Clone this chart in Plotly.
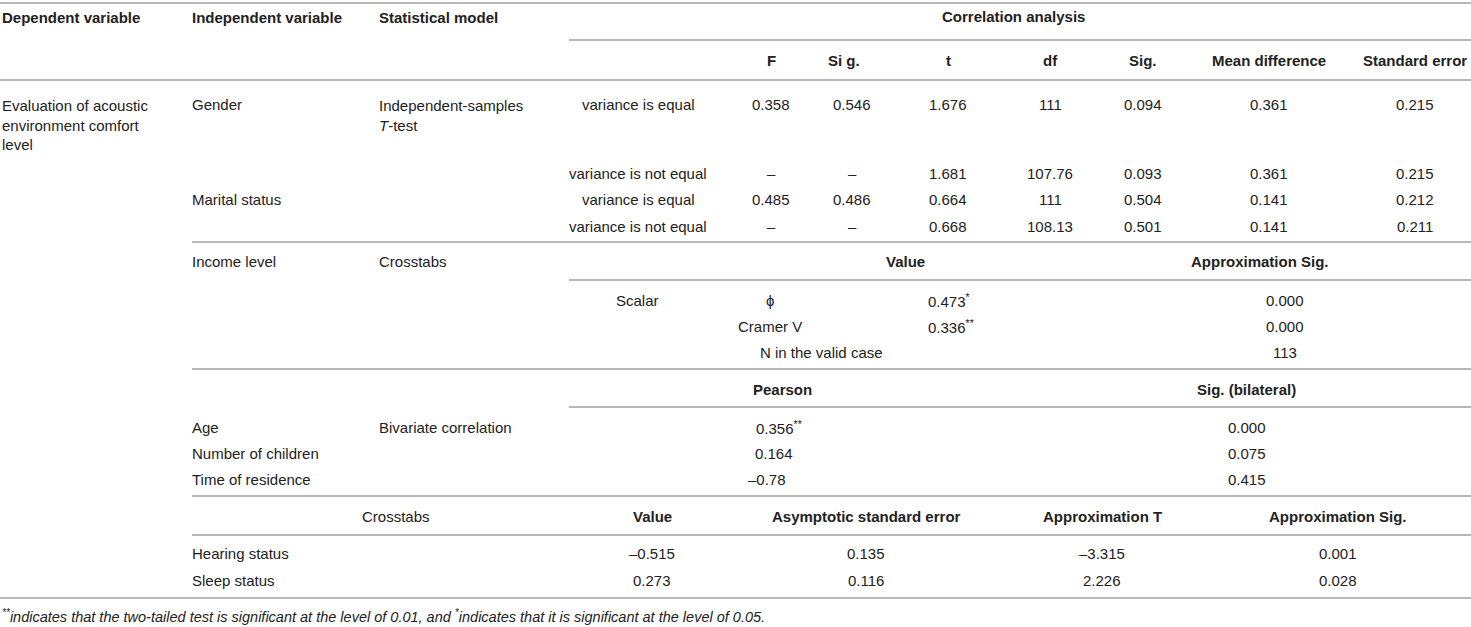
import plotly.graph_objects as go

# ---------------- data ----------------
col_headers = ["Dependent variable", "Independent variable", "Statistical model"]
group_header = "Correlation analysis"
dep_var = "Evaluation of acoustic<br>environment comfort<br>level"

ttest_vars = ["Gender", "Marital status"]
ttest_model = "Independent-samples<br><i>T</i>-test"
ttest_headers = ["F", "Si g.", "t", "df", "Sig.", "Mean difference", "Standard error"]
ttest_labels = ["variance is equal", "variance is not equal", "variance is equal", "variance is not equal"]
ttest_F = ["0.358", "–", "0.485", "–"]
ttest_sig1 = ["0.546", "–", "0.486", "–"]
ttest_t = ["1.676", "1.681", "0.664", "0.668"]
ttest_df = ["111", "107.76", "111", "108.13"]
ttest_sig2 = ["0.094", "0.093", "0.504", "0.501"]
ttest_md = ["0.361", "0.361", "0.141", "0.141"]
ttest_se = ["0.215", "0.215", "0.212", "0.211"]

income_var = "Income level"
income_model = "Crosstabs"
income_headers = ["Value", "Approximation Sig."]
income_group = "Scalar"
income_stats = ["ϕ", "Cramer V", "N in the valid case"]
income_values = ["0.473<sup>*</sup>", "0.336<sup>**</sup>", None]
income_sig = ["0.000", "0.000", "113"]

biv_headers = ["Pearson", "Sig. (bilateral)"]
biv_vars = ["Age", "Number of children", "Time of residence"]
biv_model = "Bivariate correlation"
biv_pearson = ["0.356<sup>**</sup>", "0.164", "–0.78"]
biv_sig = ["0.000", "0.075", "0.415"]

ct_model = "Crosstabs"
ct_headers = ["Value", "Asymptotic standard error", "Approximation T", "Approximation Sig."]
ct_vars = ["Hearing status", "Sleep status"]
ct_value = ["–0.515", "0.273"]
ct_se = ["0.135", "0.116"]
ct_T = ["–3.315", "2.226"]
ct_sig = ["0.001", "0.028"]

footnote = ("<sup>**</sup>indicates that the two-tailed test is significant at the level of 0.01, "
            "and <sup>*</sup>indicates that it is significant at the level of 0.05.")

# ---------------- layout (pixel positions) ----------------
W, H = 1471, 627
FONT = "Liberation Sans, Arial, sans-serif"
FS = 15
TXT = "#222222"
LINE = "#b8b8b8"

col_x = [0, 190, 377]
ttest_x = [638, 771, 852, 948, 1050, 1143, 1269, 1415]
ttest_hdr_x = [771, 844, 948, 1050, 1143, 1269, 1415]
ttest_row_y = [104, 173, 199, 226]

annotations = []


def txt(x, y, s, anchor="center", bold=False, size=FS, italic=False):
    if bold:
        s = "<b>" + s + "</b>"
    if italic:
        s = "<i>" + s + "</i>"
    annotations.append(dict(x=x, y=y, xref="x", yref="y", text=s, showarrow=False,
                            xanchor=anchor, yanchor="middle", align="left",
                            font=dict(family=FONT, size=size, color=TXT)))


# header
for i, h in enumerate(col_headers):
    txt(col_x[i], 17, h, anchor="left", bold=True)
txt(1013, 16, group_header, bold=True)
for i, h in enumerate(ttest_headers):
    txt(ttest_hdr_x[i], 60, h, bold=True)

# t-test block
annotations.append(dict(x=col_x[0], y=95, xref="x", yref="y", text=dep_var, showarrow=False,
                        xanchor="left", yanchor="top", align="left",
                        font=dict(family=FONT, size=FS, color=TXT)))
txt(col_x[1], ttest_row_y[0], ttest_vars[0], anchor="left")
txt(col_x[1], ttest_row_y[2], ttest_vars[1], anchor="left")
annotations.append(dict(x=col_x[2], y=95, xref="x", yref="y", text=ttest_model, showarrow=False,
                        xanchor="left", yanchor="top", align="left",
                        font=dict(family=FONT, size=FS, color=TXT)))
cols = [ttest_labels, ttest_F, ttest_sig1, ttest_t, ttest_df, ttest_sig2, ttest_md, ttest_se]
for r, y in enumerate(ttest_row_y):
    for c, colvals in enumerate(cols):
        txt(ttest_x[c], y, colvals[r])

# income block
txt(col_x[1], 261, income_var, anchor="left")
txt(col_x[2], 261, income_model, anchor="left")
txt(905, 261, income_headers[0], bold=True)
txt(1260, 261, income_headers[1], bold=True)
inc_y = [300, 326, 352]
txt(637, inc_y[0], income_group)
inc_stat_x = [770, 770, 821]
for i, y in enumerate(inc_y):
    txt(inc_stat_x[i], y, income_stats[i])
    if income_values[i]:
        txt(926, y, income_values[i], anchor="left")
    txt(1285, y, income_sig[i])

# bivariate block
txt(782, 389, biv_headers[0], bold=True)
txt(1246, 389, biv_headers[1], bold=True)
biv_y = [427, 453, 479]
biv_px = [754, 753, 746]
txt(col_x[2], biv_y[0], biv_model, anchor="left")
for i, y in enumerate(biv_y):
    txt(col_x[1], y, biv_vars[i], anchor="left")
    txt(biv_px[i], y, biv_pearson[i], anchor="left")
    txt(1247, y, biv_sig[i])

# crosstabs block
ct_x = [652, 866, 1102, 1338]
txt(396, 516, ct_model)
for i, h in enumerate(ct_headers):
    txt(ct_x[i], 516, h, bold=True)
ct_y = [553, 580]
ct_cols = [ct_value, ct_se, ct_T, ct_sig]
for r, y in enumerate(ct_y):
    txt(col_x[1], y, ct_vars[r], anchor="left")
    for c, vals in enumerate(ct_cols):
        txt(ct_x[c], y, vals[r])

txt(0, 616, footnote, anchor="left", italic=True, size=14.5)

# rules
rules = [(0, 3), (569, 40), (0, 80), (192, 242), (569, 280), (192, 369),
         (569, 407), (192, 496), (192, 535), (0, 598)]
shapes = [dict(type="line", xref="x", yref="y", x0=x0, x1=W, y0=y, y1=y,
               line=dict(color=LINE, width=2)) for x0, y in rules]

fig = go.Figure()
fig.update_layout(
    width=W, height=H, margin=dict(l=0, r=0, t=0, b=0),
    paper_bgcolor="white", plot_bgcolor="white",
    xaxis=dict(range=[0, W], visible=False, fixedrange=True),
    yaxis=dict(range=[H, 0], visible=False, fixedrange=True),
    annotations=annotations, shapes=shapes, showlegend=False,
)
fig.write_html("out.html", config={"displayModeBar": False},
               post_script="document.body.style.margin='0';document.body.style.overflow='hidden';")
